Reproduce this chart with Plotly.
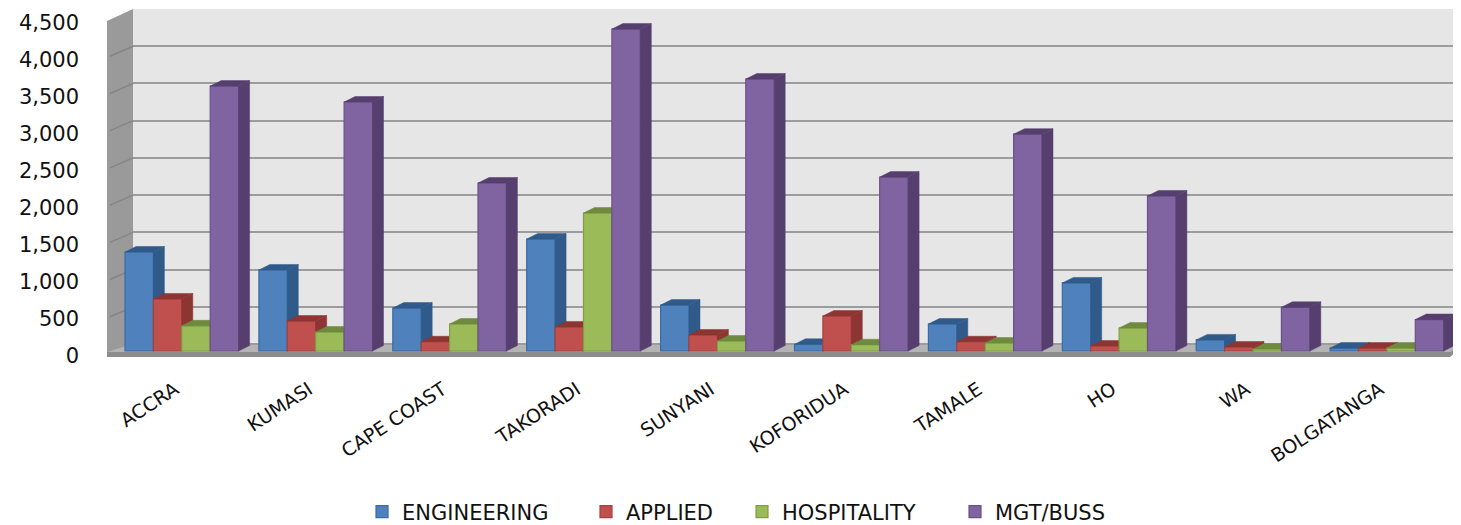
import plotly.graph_objects as go

# ---- data ----
categories = ["ACCRA", "KUMASI", "CAPE COAST", "TAKORADI", "SUNYANI",
              "KOFORIDUA", "TAMALE", "HO", "WA", "BOLGATANGA"]
engineering = [1338, 1095, 580, 1513, 620, 90, 365, 920, 150, 40]
applied = [703, 405, 125, 325, 216, 473, 125, 68, 54, 40]
hospitality = [340, 257, 365, 1865, 135, 85, 108, 311, 27, 40]
mgt_buss = [3580, 3365, 2270, 4350, 3675, 2350, 2930, 2095, 590, 425]
y_ticks = [0, 500, 1000, 1500, 2000, 2500, 3000, 3500, 4000, 4500]

series_names = ["ENGINEERING", "APPLIED", "HOSPITALITY", "MGT/BUSS"]
series_values = [engineering, applied, hospitality, mgt_buss]
front_colors = ["#4F81BD", "#C0504D", "#9BBB59", "#8064A2"]
edge_colors = ["#3A6BA5", "#A8403D", "#7F9F42", "#6B5089"]
side_colors = ["#2F5A8A", "#8C3533", "#6F8A3F", "#563F6E"]

# ---- page geometry (pixels in the reference); page body has an 8px margin ----
OX, OY = 8, 8
W, H = 1461 - OX, 550 - OY
PLOT_BOTTOM = 360
PERIOD = 133.9
CENTER0 = 182
PX_PER_UNIT = 0.074


def px(x):
    return (x - OX) / W


def py(y):
    return 1 - (y - OY) / H


def value_range(zero_px, scale):
    return [(zero_px - PLOT_BOTTOM) / scale, (zero_px - OY) / scale]


x_cat_range = [(107 - CENTER0) / PERIOD, (1461 - CENTER0) / PERIOD]
bar_w = 28.4 / PERIOD
bar_start = (125 - CENTER0) / PERIOD
depth_x = 11 / PERIOD
depth_y = 5.5 / PX_PER_UNIT
label_shift = 7 / PERIOD

fig = go.Figure()

# axes-carrier traces (invisible)
fig.add_trace(go.Scatter(x=[0], y=[0], xaxis="x", yaxis="y", mode="none",
                         showlegend=False, hoverinfo="skip"))
fig.add_trace(go.Scatter(x=[0], y=[0], xaxis="x2", yaxis="y2", mode="none",
                         showlegend=False, hoverinfo="skip"))

legend_names = ["legend", "legend2", "legend3", "legend4"]
for j, (name, vals) in enumerate(zip(series_names, series_values)):
    ya = f"y{j + 3}"
    idx = list(range(len(categories)))
    left = [i + bar_start + j * bar_w for i in idx]
    fig.add_trace(go.Bar(
        x=idx, y=vals, name=name, xaxis="x2", yaxis=ya,
        width=bar_w, offset=bar_start + j * bar_w,
        marker=dict(color=front_colors[j], line=dict(color=edge_colors[j], width=1.2)),
        legend=legend_names[j],
    ))
    sx, sy, tx, ty = [], [], [], []
    for l, v in zip(left, vals):
        r = l + bar_w
        sx += [r, r + depth_x, r + depth_x, r, r, None]
        sy += [0, depth_y, v + depth_y, v, 0, None]
        tx += [l, l + depth_x, r + depth_x, r, l, None]
        ty += [v, v + depth_y, v + depth_y, v, v, None]
    for xs, ys in ((sx, sy), (tx, ty)):
        fig.add_trace(go.Scatter(
            x=xs, y=ys, xaxis="x2", yaxis=ya, mode="lines", fill="toself",
            fillcolor=side_colors[j], line=dict(color=side_colors[j], width=0.5),
            showlegend=False, hoverinfo="skip",
        ))

# ---- chart walls ----
def poly(points, color):
    path = "M " + " L ".join(f"{px(x):.5f},{py(y):.5f}" for x, y in points) + " Z"
    return dict(type="path", xref="paper", yref="paper", path=path, layer="below",
                fillcolor=color, line=dict(width=0))


shapes = [
    poly([(133, 9), (1461, 9), (1461, 344), (133, 344)], "#E6E6E6"),
    poly([(107, 21), (133, 9), (133, 344), (107, 357)], "#9A9A9A"),
    poly([(107, 352), (133, 344), (1461, 344), (1450, 352)], "#B4B4B4"),
    poly([(107, 352), (1450, 352), (1461, 344), (1461, 348), (1450, 357), (107, 357)], "#8C8C8C"),
]
BACK_ZERO, BACK_SCALE = 344, 335 / 4500
for t in y_ticks[1:-1]:
    yb = BACK_ZERO - t * BACK_SCALE
    shapes.append(dict(type="line", xref="paper", yref="paper", layer="below",
                       x0=px(110), y0=py(yb + 10), x1=px(133), y1=py(yb),
                       line=dict(color="#858585", width=1.5)))

y_domain = [py(PLOT_BOTTOM), py(OY)]
hidden = dict(showgrid=False, zeroline=False, showticklabels=False, ticks="", showline=False,
              automargin=False)

layout = dict(
    width=W, height=H,
    margin=dict(l=0, r=0, t=0, b=0),
    paper_bgcolor="white", plot_bgcolor="rgba(0,0,0,0)",
    barmode="overlay", shapes=shapes,
    xaxis=dict(domain=[px(133), 1], range=[0, 1], **hidden),
    yaxis=dict(domain=y_domain, range=value_range(BACK_ZERO, BACK_SCALE), automargin=False,
               tickvals=y_ticks, showgrid=True, gridcolor="#9C9C9C", gridwidth=2,
               zeroline=False, showticklabels=False, ticks="", showline=False),
    xaxis2=dict(domain=[px(107), 1], range=x_cat_range, automargin=False,
                tickvals=[i - label_shift for i in range(len(categories))],
                ticktext=categories, tickangle=-33, showgrid=False, zeroline=False,
                showline=False, ticks="", ticklabelstandoff=14, anchor="y2",
                tickfont=dict(family="DejaVu Sans", size=19, color="#111111")),
    yaxis2=dict(domain=y_domain, range=value_range(355.5, PX_PER_UNIT), anchor="x2",
                automargin=False, tickvals=y_ticks, tickformat=",d", showgrid=False,
                zeroline=False, showline=False, ticks="", ticklabelstandoff=27,
                tickfont=dict(family="DejaVu Sans", size=21, color="#111111")),
)
for j in range(4):
    layout[f"yaxis{j + 3}"] = dict(domain=y_domain, overlaying="y2", anchor="x2",
                                   range=value_range(351, PX_PER_UNIT), **hidden)
legend_left = [362, 586, 742, 955]
for j, lx in enumerate(legend_left):
    layout[legend_names[j]] = dict(x=px(lx), y=py(512), xanchor="left", yanchor="middle",
                                   bgcolor="rgba(0,0,0,0)",
                                   font=dict(family="DejaVu Sans", size=21, color="#111111"))
fig.update_layout(**layout)
fig.write_html("out.html")
